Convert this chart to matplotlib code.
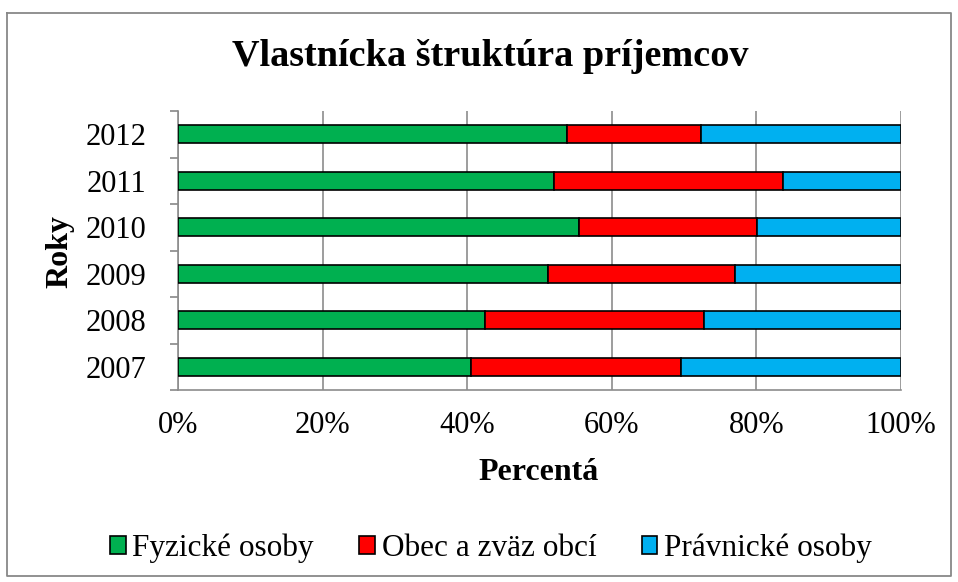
import matplotlib
matplotlib.use("Agg")
import matplotlib.pyplot as plt
from matplotlib.lines import Line2D
import numpy as np

years = ["2007", "2008", "2009", "2010", "2011", "2012"]
fyzicke = [40.5, 42.5, 51.2, 55.4, 52.0, 53.8]
obec = [29.1, 30.3, 25.9, 24.7, 31.7, 18.5]
pravnicke = [30.4, 27.2, 22.9, 19.9, 16.3, 27.7]
series_names = ["Fyzické osoby", "Obec a zväz obcí", "Právnické osoby"]
colors = ["#00B050", "#FF0000", "#00B0F0"]
xticks = [0, 20, 40, 60, 80, 100]
xticklabels = ["0%", "20%", "40%", "60%", "80%", "100%"]

plt.rcParams['font.family'] = ['Liberation Serif', 'DejaVu Serif']

fig = plt.figure(figsize=(9.58, 5.82), dpi=100)
W, H = 958, 582
ax = fig.add_axes([178 / W, 1 - 390 / H, (901 - 178) / W, (390 - 111) / H])

y = np.arange(len(years))
left = np.zeros(len(years))
for vals, name, c in zip([fyzicke, obec, pravnicke], series_names, colors):
    ax.barh(y, vals, left=left, height=0.39, color=c, edgecolor="black",
            linewidth=1.2, label=name, zorder=3)
    left = left + np.array(vals)

ax.set_xlim(0, 100)
ax.set_ylim(-0.5, len(years) - 0.5)
ax.set_xticks(xticks)
ax.set_xticklabels(xticklabels, fontsize=22)
ax.set_yticks(y)
ax.set_yticklabels(years, fontsize=22)
ax.set_yticks(np.arange(-0.5, len(years), 1), minor=True)
ax.tick_params(axis="y", which="major", length=0, pad=23)
ax.tick_params(axis="y", which="minor", length=6, color="#888888", width=1.2)
ax.tick_params(axis="x", length=0, pad=15)
ax.grid(axis="x", color="#8c8c8c", linewidth=1.2, zorder=0)
for s in ["top", "right"]:
    ax.spines[s].set_visible(False)
for s in ["left", "bottom"]:
    ax.spines[s].set_color("#8c8c8c")
    ax.spines[s].set_linewidth(1.2)

fig.text(539 / W, 1 - 473 / H, "Percentá", fontsize=23, fontweight="bold",
         ha="center", va="center")
fig.text(60 / W, 1 - 251 / H, "Roky", fontsize=23, fontweight="bold",
         ha="center", va="center", rotation=90)

fig.text(490 / W, 1 - 57 / H, "Vlastnícka štruktúra príjemcov", fontsize=27.5,
         fontweight="bold", ha="center", va="center")

fig.legend(loc="center", bbox_to_anchor=(491 / W, 1 - 548 / H), ncol=3,
           fontsize=22.5, frameon=False, handlelength=0.5, handleheight=0.5,
           handletextpad=0.22, columnspacing=1.45, borderpad=0, borderaxespad=0)

x0, x1, y0, y1 = 7 / W, 951 / W, 1 - 576 / H, 1 - 13 / H
fig.add_artist(Line2D([x0, x1, x1, x0, x0], [y1, y1, y0, y0, y1],
                      transform=fig.transFigure, color="#888888", linewidth=1.3))

fig.savefig("out.png", dpi=100)
